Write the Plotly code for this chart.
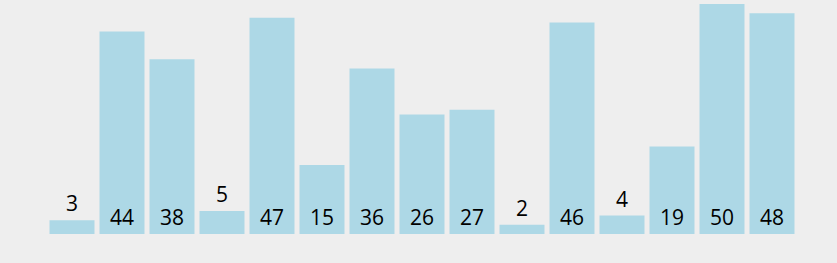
import plotly.graph_objects as go

categories = list(range(1, 16))
values = [3, 44, 38, 5, 47, 15, 36, 26, 27, 2, 46, 4, 19, 50, 48]
labels = [str(v) for v in values]
label_pos = ["outside" if v < 10 else "inside" for v in values]

fig = go.Figure(go.Bar(
    x=categories,
    y=values,
    text=labels,
    textposition=label_pos,
    insidetextanchor="start",
    textangle=0,
    constraintext="none",
    textfont=dict(family="Open Sans", size=21, color="black"),
    insidetextfont=dict(family="Open Sans", size=21, color="black"),
    outsidetextfont=dict(family="Open Sans", size=21, color="black"),
    marker=dict(color="#add8e6", line=dict(width=0)),
    cliponaxis=False,
    hoverinfo="skip",
))

fig.update_layout(
    width=837,
    height=263,
    margin=dict(l=47, r=40, t=4, b=29, pad=0),
    paper_bgcolor="#eeeeee",
    plot_bgcolor="#eeeeee",
    bargap=0.1,
    showlegend=False,
    xaxis=dict(visible=False, range=[0.5, 15.5]),
    yaxis=dict(visible=False, range=[0, 50]),
)

fig.write_html("out.html")
